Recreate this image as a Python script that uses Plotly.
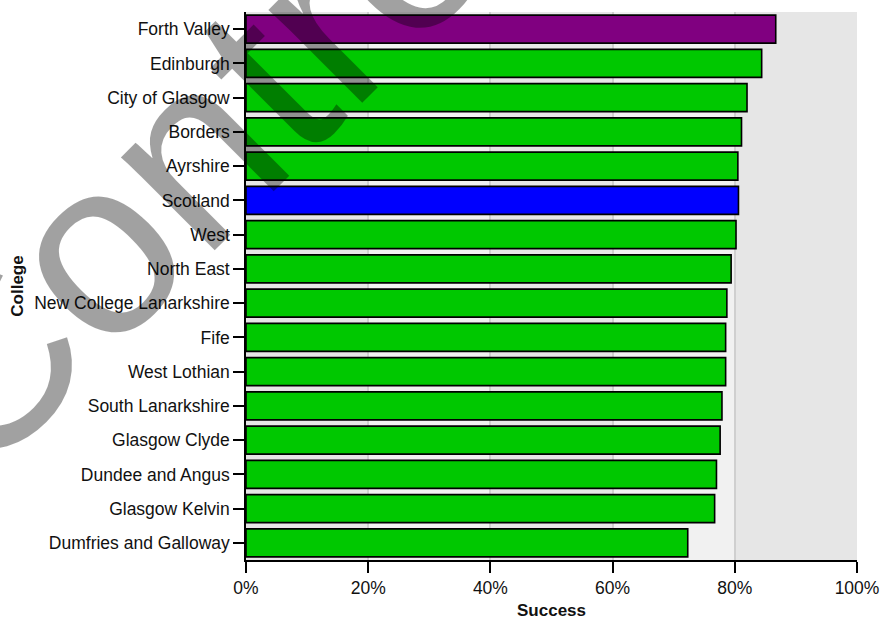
import plotly.graph_objects as go

colleges = ["Forth Valley", "Edinburgh", "City of Glasgow", "Borders", "Ayrshire",
            "Scotland", "West", "North East", "New College Lanarkshire", "Fife",
            "West Lothian", "South Lanarkshire", "Glasgow Clyde", "Dundee and Angus",
            "Glasgow Kelvin", "Dumfries and Galloway"]
success = [0.867, 0.844, 0.820, 0.811, 0.805, 0.806, 0.802, 0.794, 0.787, 0.785,
           0.785, 0.779, 0.776, 0.770, 0.767, 0.723]
x_ticks = [0, 0.2, 0.4, 0.6, 0.8, 1.0]

GREEN = "#00c800"
special = {"Forth Valley": "#800080", "Scotland": "#0000ff"}
colors = [special.get(c, GREEN) for c in colleges]

FONT = "Liberation Sans, Arial, sans-serif"

fig = go.Figure()
fig.add_trace(go.Bar(
    x=success, y=colleges, orientation="h",
    marker=dict(color=colors, line=dict(color="#000000", width=1.6)),
    hoverinfo="x+y",
))

# alternating vertical background bands
shapes = []
for i in range(len(x_ticks) - 1):
    if i % 2 == 1:
        shapes.append(dict(type="rect", xref="x", yref="paper",
                           x0=x_ticks[i], x1=x_ticks[i + 1], y0=0, y1=1,
                           fillcolor="#f1f1f1", line=dict(width=0), layer="below"))

fig.update_layout(
    width=882, height=620,
    margin=dict(l=246, r=25, t=12, b=60),
    paper_bgcolor="#ffffff", plot_bgcolor="#e6e6e6",
    font=dict(family=FONT, size=17.5, color="#111111"),
    bargap=0.18,
    showlegend=False,
    shapes=shapes,
    xaxis=dict(
        range=[0, 1], tickvals=x_ticks, tickformat=".0%",
        showgrid=True, gridcolor="#cfcfcf", gridwidth=1.5,
        showline=True, linecolor="#000000", linewidth=1.5,
        ticks="outside", ticklen=11, tickwidth=1.5, tickcolor="#000000",
        zeroline=False, fixedrange=True,
        title=dict(text="<b>Success</b>", font=dict(size=17), standoff=10),
        automargin=False,
    ),
    yaxis=dict(
        autorange="reversed",
        showline=True, linecolor="#000000", linewidth=1.5,
        ticks="outside", ticklen=11, tickwidth=1.5, tickcolor="#000000",
        showgrid=False, fixedrange=True,
        title=dict(text="<b>College</b>", font=dict(size=17), standoff=6),
        automargin=False,
    ),
)

# watermark
fig.add_annotation(
    text="Control", xref="paper", yref="paper",
    x=(200 - 246) / 611, y=(560 - 142) / 548,
    xanchor="center", yanchor="middle", showarrow=False,
    textangle=-45,
    font=dict(family=FONT, size=250, color="rgba(0,0,0,0.37)"),
)

fig.write_html("out.html")
